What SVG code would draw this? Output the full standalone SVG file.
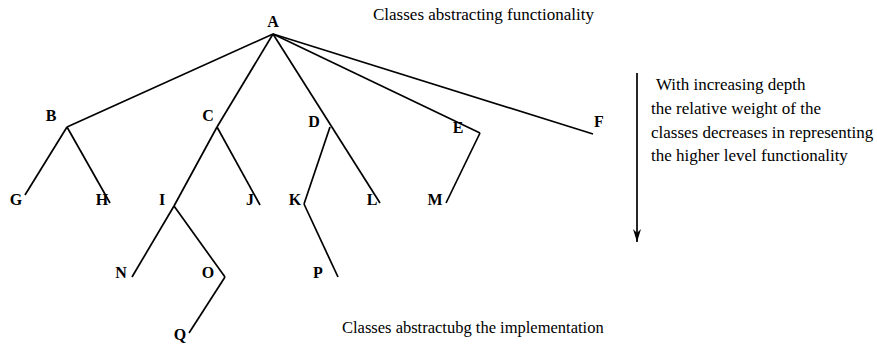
<svg xmlns="http://www.w3.org/2000/svg" width="877" height="345" viewBox="0 0 877 345">
<style>
text{font-family:"Liberation Serif","Times New Roman",serif;fill:#000}
.lbl{font-size:16px;font-weight:bold;text-anchor:middle}
.cap{font-size:17px}
.e{stroke:#000;stroke-width:1.7;fill:none}
</style>
<defs>
<marker id="ah" markerWidth="14" markerHeight="8" refX="13" refY="4" orient="auto" markerUnits="userSpaceOnUse">
<path d="M0,0 L13,4 L0,8 L4,4 Z" fill="#000"/>
</marker>
</defs>
<rect width="877" height="345" fill="#fff"/>
<g id="connectors">
<path class="e" d="M273,34 L67,127"/>
<path class="e" d="M273,34 L217,127"/>
<path class="e" d="M273,34 L380,203"/>
<path class="e" d="M273,34 L480,133"/>
<path class="e" d="M273,34 L593,134"/>
<path class="e" d="M67,127 L25,195"/>
<path class="e" d="M67,127 L110,203"/>
<path class="e" d="M217,127 L174,206"/>
<path class="e" d="M217,127 L260,205"/>
<path class="e" d="M174,206 L132,277"/>
<path class="e" d="M174,206 L225,277"/>
<path class="e" d="M225,277 L189,333"/>
<path class="e" d="M330,127 L304,204"/>
<path class="e" d="M304,204 L338,277"/>
<path class="e" d="M480,133 L446,203"/>
<path class="e" d="M637,73 L637,242" marker-end="url(#ah)"/>
</g>
<g id="A"><text class="lbl" x="273" y="27">A</text></g>
<g id="B"><text class="lbl" x="51" y="121">B</text></g>
<g id="C"><text class="lbl" x="208" y="121">C</text></g>
<g id="D"><text class="lbl" x="314" y="127">D</text></g>
<g id="E"><text class="lbl" x="458" y="133">E</text></g>
<g id="F"><text class="lbl" x="599" y="127">F</text></g>
<g id="G"><text class="lbl" x="16" y="205">G</text></g>
<g id="H"><text class="lbl" x="102" y="205">H</text></g>
<g id="I"><text class="lbl" x="162" y="205">I</text></g>
<g id="J"><text class="lbl" x="250" y="205">J</text></g>
<g id="K"><text class="lbl" x="295" y="205">K</text></g>
<g id="L"><text class="lbl" x="372" y="205">L</text></g>
<g id="M"><text class="lbl" x="435" y="205">M</text></g>
<g id="N"><text class="lbl" x="121" y="278">N</text></g>
<g id="O"><text class="lbl" x="208" y="278">O</text></g>
<g id="P"><text class="lbl" x="318" y="278">P</text></g>
<g id="Q"><text class="lbl" x="180" y="340">Q</text></g>
<text class="cap" x="373" y="20">Classes abstracting functionality</text>
<text class="cap" x="342" y="333" style="font-size:16.5px">Classes abstractubg the implementation</text>
<text class="cap" x="656" y="90">With increasing depth</text>
<text class="cap" x="651" y="114">the relative weight of the</text>
<text class="cap" x="651" y="138">classes decreases in representing</text>
<text class="cap" x="651" y="161">the higher level functionality</text>
</svg>
